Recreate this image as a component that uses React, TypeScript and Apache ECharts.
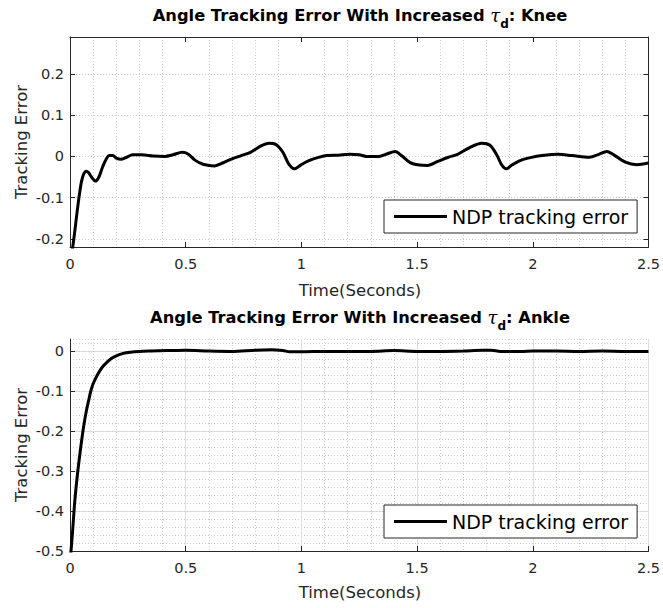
import React, { useEffect, useRef } from "react";
import * as echarts from "echarts";

const SERIES_NAME = "NDP tracking error";
const TITLE_PREFIX = "Angle Tracking Error With Increased ";
const KNEE_TITLE_SUFFIX = ": Knee";
const ANKLE_TITLE_SUFFIX = ": Ankle";
const X_LABEL = "Time(Seconds)";
const Y_LABEL = "Tracking Error";

const kneeTicks = [-0.2, -0.1, 0, 0.1, 0.2];
const ankleTicks = [-0.5, -0.4, -0.3, -0.2, -0.1, 0];

const kneeT = [
  0, 0.02, 0.03, 0.04, 0.05, 0.06, 0.07, 0.08, 0.093, 0.11, 0.125, 0.14, 0.155, 0.17, 0.185, 0.2, 0.22, 0.245,
  0.27, 0.31, 0.36, 0.41, 0.445, 0.485, 0.51, 0.54, 0.575, 0.625, 0.66, 0.7, 0.74, 0.78, 0.82, 0.86, 0.89, 0.92,
  0.945, 0.97, 1.0, 1.03, 1.07, 1.11, 1.16, 1.21, 1.25, 1.28, 1.335, 1.37, 1.405, 1.435, 1.47, 1.51, 1.545,
  1.59, 1.635, 1.675, 1.725, 1.78, 1.815, 1.845, 1.865, 1.885, 1.91, 1.945, 1.99, 2.04, 2.11, 2.17, 2.245,
  2.285, 2.32, 2.355, 2.4, 2.45, 2.5,
];
const kneeV = [
  -0.27, -0.185, -0.138, -0.095, -0.06, -0.042, -0.036, -0.039, -0.05, -0.06, -0.05, -0.027, -0.008, 0.002,
  0.002, -0.004, -0.007, -0.002, 0.004, 0.004, 0.001, 0.0, 0.004, 0.01, 0.006, -0.009, -0.019, -0.023, -0.016,
  -0.006, 0.002, 0.01, 0.024, 0.032, 0.029, 0.01, -0.018, -0.03, -0.02, -0.011, -0.003, 0.002, 0.003, 0.005,
  0.004, 0.0, 0.0, 0.006, 0.012, 0.001, -0.015, -0.021, -0.022, -0.012, -0.002, 0.005, 0.021, 0.032, 0.027,
  0.003, -0.02, -0.03, -0.021, -0.01, -0.003, 0.002, 0.005, 0.002, -0.002, 0.005, 0.012, 0.002, -0.014, -0.02,
  -0.016,
];

const ankleT = [
  0, 0.01, 0.02, 0.03, 0.04, 0.05, 0.06, 0.07, 0.08, 0.09, 0.1, 0.12, 0.14, 0.16, 0.18, 0.2, 0.23, 0.26, 0.3,
  0.35, 0.42, 0.5, 0.6, 0.7, 0.8, 0.87, 0.92, 0.95, 1.0, 1.1, 1.2, 1.3, 1.4, 1.5, 1.6, 1.7, 1.78, 1.82, 1.86,
  1.95, 2.0, 2.1, 2.2, 2.3, 2.4, 2.5,
];
const ankleV = [
  -0.53, -0.46, -0.38, -0.32, -0.27, -0.225, -0.185, -0.152, -0.125, -0.1, -0.082, -0.058, -0.04, -0.028,
  -0.018, -0.012, -0.006, -0.003, -0.001, 0, 0.001, 0.002, 0.0, -0.001, 0.002, 0.003, 0.001, -0.002, -0.002,
  -0.001, -0.001, -0.001, 0.001, -0.001, -0.001, 0.0, 0.002, 0.002, -0.001, -0.001, 0.0, 0.0, -0.001, 0.0,
  -0.001, -0.001,
];

const FONT = "DejaVu Sans";
const TXT = "#262626";
const MAJOR = "#dedede";
const MINOR = "#cdcdcd";

function pairs(t: number[], v: number[]) {
  return t.map((x, i) => [x, v[i]]);
}

function titleText(suffix: string, y: number) {
  return {
    type: "text",
    x: 360,
    y,
    z: 10,
    style: {
      text: `{a|${TITLE_PREFIX}}{t|τ}{s|d}{a|${suffix}}`,
      align: "center",
      verticalAlign: "top",
      fill: "#000",
      rich: {
        a: { fontSize: 16.3, fontWeight: "bold", fontFamily: FONT, lineHeight: 30, fill: "#000" },
        t: { fontSize: 18, fontStyle: "italic", fontFamily: "DejaVu Serif", lineHeight: 30, fill: "#000" },
        s: { fontSize: 12, fontWeight: "bold", fontFamily: FONT, lineHeight: 14, verticalAlign: "bottom", fill: "#000" },
      },
    },
  };
}

function labelText(text: string, x: number, y: number, rot: number) {
  return {
    type: "text",
    x,
    y,
    rotation: rot,
    style: { text, fontSize: 16.5, fontFamily: FONT, fill: TXT, align: "center", verticalAlign: "middle" },
  };
}

export default function App() {
  const ref = useRef<HTMLDivElement>(null);
  useEffect(() => {
    if (!ref.current) return;
    const chart = echarts.init(ref.current, undefined, { renderer: "svg" });
    const axisLine = { show: true, onZero: false, lineStyle: { color: TXT, width: 1 } };
    const tick = { show: true, inside: true, length: 5, lineStyle: { color: TXT, width: 1 } };
    const lbl = { fontSize: 14.5, fontFamily: FONT, color: TXT };
    const dotted = { show: true, lineStyle: { color: MINOR, width: 1, type: [1, 2] } };
    const solid = { show: true, lineStyle: { color: MAJOR, width: 1, type: "solid" } };
    const legendBase = {
      left: 384,
      data: [SERIES_NAME],
      orient: "horizontal",
      icon: "rect",
      itemWidth: 53,
      itemHeight: 3,
      itemStyle: { color: "#000" },
      padding: [7, 9, 7, 10],
      borderColor: TXT,
      borderWidth: 1,
      backgroundColor: "#fff",
      selectedMode: false,
      textStyle: { fontSize: 19, fontFamily: FONT, color: "#000" },
    };
    const option: any = {
      animation: false,
      backgroundColor: "#fff",
      grid: [
        { left: 70, top: 37, width: 580, height: 210 },
        { left: 70, top: 339, width: 580, height: 212 },
      ],
      xAxis: [
        {
          gridIndex: 0, type: "value", min: 0, max: 2.5, interval: 0.5, position: "bottom",
          axisLine, axisTick: tick, axisLabel: { ...lbl, margin: 9 },
          splitLine: { show: false }, minorTick: { show: false, splitNumber: 5 }, minorSplitLine: dotted,
        },
        {
          gridIndex: 0, type: "value", min: 0, max: 2.5, interval: 0.5, position: "top",
          axisLine, axisTick: tick, axisLabel: { show: false }, splitLine: { show: false },
        },
        {
          gridIndex: 1, type: "value", min: 0, max: 2.5, interval: 0.5, position: "bottom",
          axisLine, axisTick: tick, axisLabel: { ...lbl, margin: 9 },
          splitLine: solid, minorTick: { show: false, splitNumber: 5 }, minorSplitLine: dotted,
        },
      ],
      yAxis: [
        {
          gridIndex: 0, type: "value", min: -0.22, max: 0.29, position: "left",
          axisLine, axisTick: { ...tick, customValues: kneeTicks },
          axisLabel: { ...lbl, margin: 6, customValues: kneeTicks }, splitLine: { show: false },
        },
        {
          gridIndex: 0, type: "value", min: -0.22, max: 0.29, interval: 0.02, position: "right",
          axisLine, axisTick: { ...tick, customValues: kneeTicks }, axisLabel: { show: false },
          splitLine: dotted,
        },
        {
          gridIndex: 1, type: "value", min: -0.5, max: 0.03, interval: 0.1, position: "left",
          axisLine, axisTick: { ...tick, customValues: ankleTicks },
          axisLabel: { ...lbl, margin: 6, customValues: ankleTicks }, splitLine: solid,
        },
        {
          gridIndex: 1, type: "value", min: -0.5, max: 0.03, interval: 0.02, position: "right",
          axisLine: { show: false }, axisTick: { show: false }, axisLabel: { show: false }, splitLine: dotted,
        },
      ],
      legend: [
        { ...legendBase, top: 200 },
        { ...legendBase, top: 505 },
      ],
      series: [
        {
          type: "line", name: SERIES_NAME, xAxisIndex: 0, yAxisIndex: 0, data: pairs(kneeT, kneeV),
          symbol: "none", showSymbol: false, smooth: 0.3, clip: true, z: 5,
          lineStyle: { color: "#000", width: 3 }, itemStyle: { color: "#000" },
        },
        {
          type: "line", name: SERIES_NAME, xAxisIndex: 2, yAxisIndex: 2, data: pairs(ankleT, ankleV),
          symbol: "none", showSymbol: false, smooth: 0.3, clip: true, z: 5,
          lineStyle: { color: "#000", width: 3 }, itemStyle: { color: "#000" },
        },
      ],
      graphic: [
        titleText(KNEE_TITLE_SUFFIX, 0),
        titleText(ANKLE_TITLE_SUFFIX, 302),
        labelText(Y_LABEL, 21.5, 142, Math.PI / 2),
        labelText(Y_LABEL, 21.5, 445, Math.PI / 2),
        labelText(X_LABEL, 360, 290, 0),
        labelText(X_LABEL, 360, 592, 0),
      ],
    };
    chart.setOption(option);
    return () => chart.dispose();
  }, []);
  return (
    <div
      ref={ref}
      style={{ position: "absolute", left: 0, top: 0, width: 663, height: 608 }}
    />
  );
}
